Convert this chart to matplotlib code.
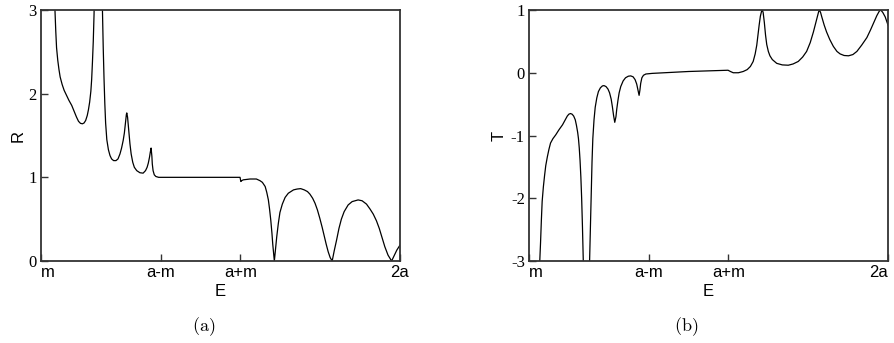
import numpy as np
import matplotlib
matplotlib.use('Agg')
import matplotlib.pyplot as plt

plt.rcParams['mathtext.fontset'] = 'cm'

# energy axis: m = 1, a = 5
x_ticks = [1, 4, 6, 10]
x_ticklabels = ['m', 'a-m', 'a+m', '2a']

# panel (a): R(E)
E_R = [1.30, 1.35, 1.37, 1.39, 1.42, 1.45, 1.48, 1.53, 1.58, 1.64,
       1.70, 1.77, 1.83, 1.89, 1.94, 1.99, 2.04, 2.08, 2.12, 2.16,
       2.19, 2.22, 2.25, 2.27, 2.29, 2.31, 2.33, 2.35, 2.52, 2.54,
       2.56, 2.58, 2.60, 2.62, 2.65, 2.69, 2.73, 2.77, 2.82, 2.88,
       2.93, 2.98, 3.02, 3.06, 3.09, 3.12, 3.14, 3.15, 3.17, 3.19,
       3.21, 3.23, 3.26, 3.30, 3.34, 3.40, 3.48, 3.56, 3.62, 3.66,
       3.69, 3.72, 3.74, 3.76, 3.78, 3.79, 3.81, 3.84, 3.88, 3.95,
       4.50, 5.00, 5.50, 5.99, 6.01, 6.03, 6.07, 6.24, 6.40, 6.49,
       6.55, 6.62, 6.66, 6.70, 6.73, 6.76, 6.79, 6.81, 6.83, 6.85,
       6.88, 6.91, 6.95, 6.99, 7.05, 7.12, 7.20, 7.33, 7.42, 7.51,
       7.60, 7.68, 7.74, 7.81, 7.87, 7.93, 7.99, 8.05, 8.10, 8.15,
       8.20, 8.25, 8.30, 8.35, 8.41, 8.47, 8.53, 8.60, 8.70, 8.80,
       8.95, 9.05, 9.16, 9.25, 9.33, 9.41, 9.48, 9.55, 9.62, 9.70,
       9.79, 9.85, 9.92, 10.0]
R = [3.5, 3.0, 2.75, 2.55, 2.40, 2.29, 2.20, 2.11, 2.04, 1.98,
     1.92, 1.86, 1.79, 1.72, 1.67, 1.645, 1.64, 1.65, 1.68, 1.74,
     1.81, 1.90, 2.03, 2.17, 2.38, 2.62, 2.95, 3.5, 3.5, 3.0,
     2.55, 2.18, 1.88, 1.65, 1.45, 1.33, 1.26, 1.22, 1.20, 1.20,
     1.22, 1.28, 1.35, 1.44, 1.53, 1.66, 1.75, 1.77, 1.72, 1.61,
     1.50, 1.40, 1.28, 1.18, 1.12, 1.08, 1.055, 1.05, 1.08, 1.12,
     1.17, 1.24, 1.30, 1.35, 1.25, 1.16, 1.08, 1.03, 1.01, 1.00,
     1.0, 1.0, 1.0, 1.0, 0.95, 0.96, 0.97, 0.98, 0.98, 0.96,
     0.94, 0.89, 0.82, 0.73, 0.62, 0.49, 0.33, 0.20, 0.10, 0.0,
     0.15, 0.29, 0.45, 0.58, 0.68, 0.76, 0.81, 0.85, 0.86, 0.865,
     0.85, 0.83, 0.80, 0.75, 0.69, 0.61, 0.51, 0.40, 0.30, 0.20,
     0.11, 0.04, 0.0, 0.12, 0.25, 0.39, 0.50, 0.59, 0.67, 0.71,
     0.73, 0.72, 0.68, 0.62, 0.56, 0.48, 0.39, 0.28, 0.17, 0.07,
     0.0, 0.06, 0.13, 0.19]

# panel (b): T(E)
E_T = [1.25, 1.27, 1.29, 1.31, 1.33, 1.36, 1.39, 1.42, 1.46, 1.50,
       1.54, 1.60, 1.67, 1.75, 1.84, 1.90, 1.96, 2.00, 2.04, 2.08,
       2.12, 2.16, 2.19, 2.22, 2.24, 2.26, 2.28, 2.30, 2.32, 2.34,
       2.36, 2.38, 2.50, 2.52, 2.54, 2.56, 2.58, 2.60, 2.63, 2.66,
       2.70, 2.74, 2.79, 2.84, 2.88, 2.93, 2.98, 3.02, 3.06, 3.09,
       3.12, 3.15, 3.18, 3.20, 3.23, 3.26, 3.30, 3.36, 3.42, 3.49,
       3.55, 3.61, 3.66, 3.70, 3.73, 3.76, 3.78, 3.80, 3.83, 3.87,
       3.93, 4.09, 5.00, 5.99, 6.05, 6.12, 6.25, 6.37, 6.47, 6.55,
       6.62, 6.67, 6.71, 6.74, 6.77, 6.80, 6.83, 6.85, 6.87, 6.90,
       6.93, 6.96, 7.00, 7.04, 7.10, 7.21, 7.35, 7.50, 7.62, 7.75,
       7.86, 7.96, 8.05, 8.13, 8.19, 8.23, 8.26, 8.28, 8.31, 8.34,
       8.40, 8.46, 8.54, 8.63, 8.72, 8.80, 8.90, 9.01, 9.12, 9.22,
       9.34, 9.47, 9.56, 9.65, 9.72, 9.78, 9.82, 9.87, 9.93, 10.0]
T = [-3.5, -3.0, -2.70, -2.35, -2.05, -1.82, -1.64, -1.48, -1.34, -1.22,
     -1.12, -1.05, -0.99, -0.91, -0.83, -0.76, -0.69, -0.66, -0.65, -0.66,
     -0.69, -0.75, -0.84, -0.95, -1.05, -1.20, -1.40, -1.66, -2.00, -2.45,
     -3.0, -3.5, -3.5, -3.0, -2.45, -1.90, -1.42, -1.05, -0.75, -0.55,
     -0.40, -0.30, -0.24, -0.21, -0.205, -0.22, -0.26, -0.32, -0.42, -0.54,
     -0.68, -0.79, -0.70, -0.58, -0.44, -0.32, -0.22, -0.13, -0.08, -0.055,
     -0.05, -0.065, -0.11, -0.18, -0.27, -0.36, -0.28, -0.17, -0.08, -0.04,
     -0.02, -0.01, 0.02, 0.04, 0.02, 0.0, 0.0, 0.02, 0.05, 0.10,
     0.18, 0.30, 0.44, 0.60, 0.76, 0.90, 0.98, 1.0, 0.96, 0.80,
     0.60, 0.45, 0.34, 0.27, 0.21, 0.15, 0.125, 0.12, 0.14, 0.18,
     0.25, 0.34, 0.48, 0.65, 0.80, 0.90, 0.97, 1.0, 0.96, 0.89,
     0.76, 0.65, 0.53, 0.42, 0.34, 0.30, 0.275, 0.27, 0.29, 0.34,
     0.44, 0.56, 0.68, 0.81, 0.91, 0.98, 1.0, 0.96, 0.89, 0.76]

R_ticks = [0, 1, 2, 3]
T_ticks = [-3, -2, -1, 0, 1]

W, H = 895, 343
fig = plt.figure(figsize=(W / 100, H / 100), dpi=100)

panels = [
    dict(left=41, E=E_R, y=R, ylim=(0, 3), yticks=R_ticks, ylabel='R',
         ylab_x=-0.043, cap='a', cap_x=204),
    dict(left=529, E=E_T, y=T, ylim=(-3, 1), yticks=T_ticks, ylabel='T',
         ylab_x=-0.063, cap='b', cap_x=686),
]

for p in panels:
    ax = fig.add_axes([p['left'] / W, (H - 261) / H, 359 / W, 251 / H])
    ax.plot(p['E'], p['y'], color='black', lw=0.9)
    ax.set_xlim(1, 10)
    ax.set_ylim(*p['ylim'])

    ax.set_xticks(x_ticks, x_ticklabels, fontfamily='Liberation Sans', fontsize=12)
    ax.set_yticks(p['yticks'], [str(v) for v in p['yticks']],
                  fontfamily='Liberation Serif', fontsize=12)
    ax.tick_params(axis='both', direction='in', length=5, width=1, color='#333333')
    ax.tick_params(axis='x', pad=3)
    ax.tick_params(axis='y', pad=3)
    xl = ax.get_xticklabels()
    xl[0].set_ha('left')
    if p['cap'] == 'b':
        xl[-1].set_ha('right')

    for s in ax.spines.values():
        s.set_color('#333333')
        s.set_linewidth(1.3)

    ax.set_xlabel('E', fontfamily='Liberation Sans', fontsize=12)
    ax.set_ylabel(p['ylabel'], fontfamily='Liberation Sans', fontsize=12)
    ax.xaxis.set_label_coords(0.5, -0.092)
    ax.yaxis.set_label_coords(p['ylab_x'], 0.5)

    fig.text(p['cap_x'] / W, 1 - 326.5 / H, r'$(\mathrm{' + p['cap'] + r'})$',
             ha='center', va='center', fontsize=13)

fig.savefig('out.png', dpi=100)
